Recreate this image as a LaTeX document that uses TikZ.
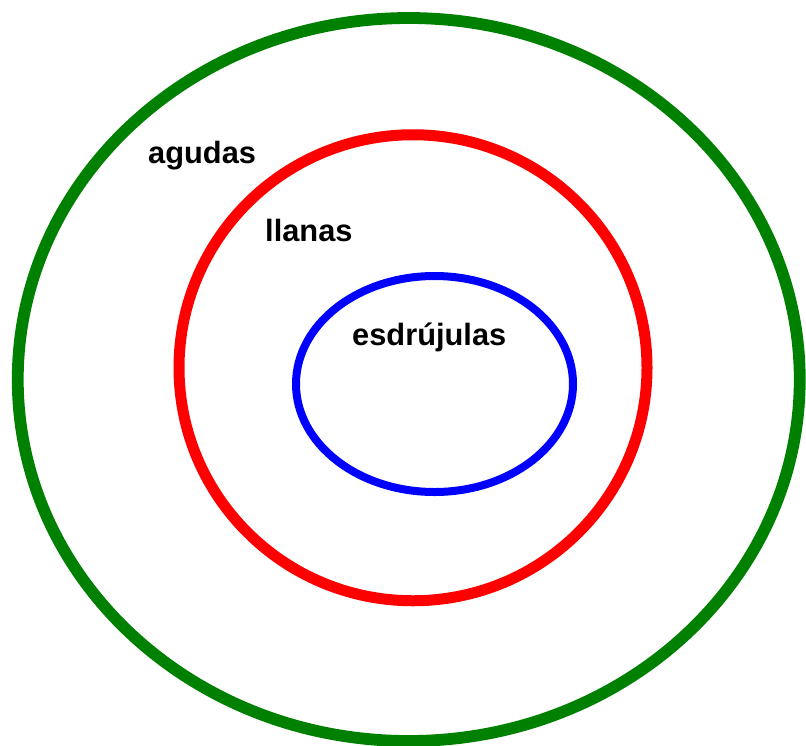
\documentclass[tikz,border=0pt]{standalone}
\usepackage{fontspec}
\setmainfont{Liberation Sans}
\usepackage{xcolor}
\usepackage{tikz}
\definecolor{ringgreen}{HTML}{008000}
\definecolor{ringred}{HTML}{FF0000}
\definecolor{ringblue}{HTML}{0000FF}
\begin{document}
\begin{tikzpicture}[
  x=1pt,y=-1pt,
  ring/.style={line width=#1},
  word/.style={anchor=base west,inner sep=0pt,font=\fontsize{30.8}{36}\selectfont\bfseries}
]
\useasboundingbox (0,0) rectangle (806,745);
\draw[ring=11.8pt,draw=ringgreen] (408.75,379.5) ellipse [x radius=391,y radius=361.5];
\draw[ring=11pt,draw=ringred] (413,367.75) ellipse [x radius=234,y radius=233];
\draw[ring=8pt,draw=ringblue] (434.5,384) ellipse [x radius=138.5,y radius=108];
\node[word] (agudas) at (148,163) {agudas};
\node[word] (llanas) at (265,241.7) {llanas};
\node[word] (esdrujulas) at (352,345) {esdrújulas};
\end{tikzpicture}
\end{document}
